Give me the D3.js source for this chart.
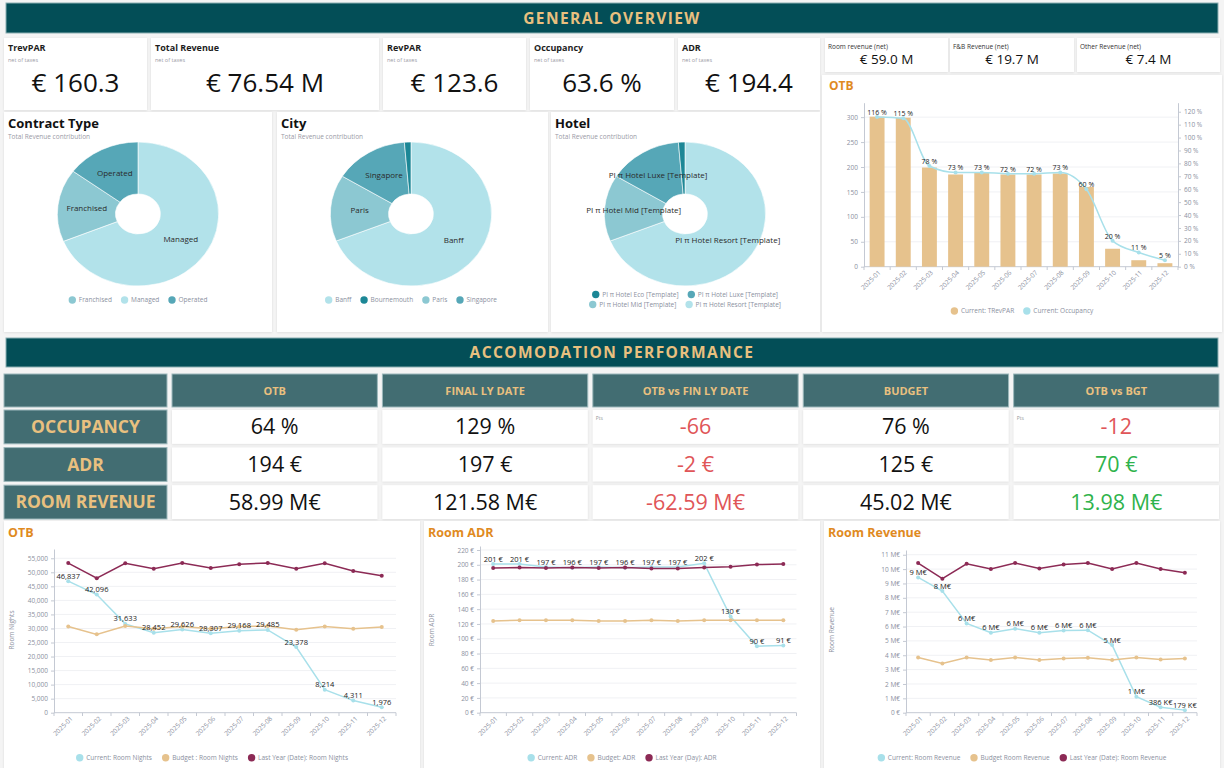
<!DOCTYPE html>
<html>
<head>
<meta charset="UTF-8">
<title>General Overview</title>
<script src="https://d3js.org/d3.v7.min.js"></script>
<style>
  * { margin: 0; padding: 0; box-sizing: border-box; }
  body { background: #f4f4f4; width: 1224px; height: 768px; overflow: hidden; }
  svg { display: block; }
  text { font-family: "Open Sans", sans-serif; }
  .axis path, .axis line { stroke: #c4c9d3; }
  .axis text { fill: #8b90a0; font-size: 6.5px; font-family: "Open Sans", sans-serif; }
</style>
</head>
<body>
<svg id="dash" width="1224" height="768"></svg>
<script>
// ---- data ----
const months = ["2025-01","2025-02","2025-03","2025-04","2025-05","2025-06",
                "2025-07","2025-08","2025-09","2025-10","2025-11","2025-12"];

const kpiNames = ["TrevPAR", "Total Revenue", "RevPAR", "Occupancy", "ADR"];
const kpiValues = ["€ 160.3", "€ 76.54 M", "€ 123.6", "63.6 %", "€ 194.4"];
const revNames = ["Room revenue (net)", "F&B Revenue (net)", "Other Revenue (net)"];
const revValues = ["€ 59.0 M", "€ 19.7 M", "€ 7.4 M"];

const otbTrevpar = [301, 299, 199, 185, 188, 185, 185, 187, 160, 36, 13, 7];
const otbOccupancy = [116, 115, 78, 73, 73, 72, 72, 73, 60, 20, 11, 5];

const contractNames = ["Managed", "Franchised", "Operated"];
const contractRevenue = [52.7, 12.5, 11.4];
const cityNames = ["Banff", "Paris", "Singapore", "Bournemouth"];
const cityRevenue = [52.7, 11.4, 11.4, 1.0];
const hotelNames = ["PI π Hotel Resort [Template]", "PI π Hotel Mid [Template]",
                    "PI π Hotel Luxe [Template]", "PI π Hotel Eco [Template]"];
const hotelRevenue = [52.7, 11.4, 11.4, 1.0];

const tableColumns = ["OTB", "FINAL LY DATE", "OTB vs FIN LY DATE", "BUDGET", "OTB vs BGT"];
const tableRows = ["OCCUPANCY", "ADR", "ROOM REVENUE"];
const occupancyRow = ["64 %", "129 %", "-66", "76 %", "-12"];
const adrRow = ["194 €", "197 €", "-2 €", "125 €", "70 €"];
const roomRevenueRow = ["58.99 M€", "121.58 M€", "-62.59 M€", "45.02 M€", "13.98 M€"];

const roomNightsCurrent = [46837, 42096, 31633, 28452, 29626, 28307, 29168, 29485, 23378, 8214, 4311, 1976];
const roomNightsBudget = [30700, 27900, 30900, 29900, 30700, 29900, 30700, 30900, 29500, 30700, 29900, 30500];
const roomNightsLastYear = [53300, 47900, 53200, 51300, 53300, 51500, 52900, 53300, 51300, 53200, 50500, 48800];

const adrCurrent = [201, 201, 197, 196, 197, 196, 197, 197, 202, 130, 90, 91];
const adrBudget = [124, 125, 125, 125, 124, 124, 125, 124, 125, 125, 125, 125];
const adrLastYear = [195.6, 196.4, 195.6, 196.4, 195.6, 196.4, 195, 195, 196.4, 197.3, 200.4, 200.9];

const revenueCurrent = [9.42, 8.47, 6.22, 5.57, 5.85, 5.57, 5.73, 5.75, 4.71, 1.11, 0.386, 0.179];
const revenueBudget = [3.85, 3.43, 3.85, 3.67, 3.85, 3.67, 3.78, 3.83, 3.67, 3.85, 3.71, 3.78];
const revenueLastYear = [10.42, 9.33, 10.37, 10.0, 10.42, 10.05, 10.32, 10.42, 10.0, 10.42, 10.0, 9.74];

// ---- styles ----
const DARK = "#034e57", GOLD = "#e9c07f", CELL = "#426d72", ORANGE = "#e08a1f";
const BLUE = "#a8e0ea", TAN = "#e6c28d", MAROON = "#8c2a55";
const RED = "#e05558", GREEN = "#2fb34c", GREY = "#8b90a0";
const PIE_COLORS = ["#b2e2ea", "#8cc8d2", "#56a7b7", "#1c8796"];

const svg = d3.select("#dash");
const defs = svg.append("defs");
defs.append("filter").attr("id", "shadow")
  .attr("x", "-5%").attr("y", "-5%").attr("width", "110%").attr("height", "115%")
  .append("feDropShadow").attr("dx", 0).attr("dy", 0.6).attr("stdDeviation", 0.8)
  .attr("flood-color", "#000").attr("flood-opacity", 0.1);

function card(x, y, w, h) {
  svg.append("rect").attr("x", x).attr("y", y).attr("width", w).attr("height", h)
    .attr("fill", "#fff").attr("filter", "url(#shadow)");
}

function sectionBand(y, h, label) {
  svg.append("rect").attr("x", 6).attr("y", y).attr("width", 1212).attr("height", h)
    .attr("fill", DARK).attr("stroke", "#8aaeb2").attr("stroke-width", 1);
  svg.append("text").attr("x", 612).attr("y", y + h / 2 + 5.5)
    .attr("text-anchor", "middle").attr("fill", GOLD)
    .attr("font-size", 15.5).attr("font-weight", 700).attr("letter-spacing", 1.4)
    .text(label);
}

function legend(cx, y, items, gap) {
  const g = svg.append("g");
  const nodes = items.map(it => {
    const ig = g.append("g");
    ig.append("circle").attr("r", 3.7).attr("fill", it.color);
    const t = ig.append("text").attr("x", 6.5).attr("y", 2.3)
      .attr("font-size", 6.5).attr("fill", GREY).text(it.label);
    return { ig, w: 6.5 + t.node().getComputedTextLength() };
  });
  const total = d3.sum(nodes, n => n.w + 3.7) + gap * (nodes.length - 1);
  let x = cx - total / 2 + 3.7;
  nodes.forEach(n => {
    n.ig.attr("transform", `translate(${x},${y})`);
    x += n.w + 3.7 + gap;
  });
}

function styleAxis(g) {
  g.attr("class", "axis");
}

// ---- GENERAL OVERVIEW ----
sectionBand(3, 30, "GENERAL OVERVIEW");

const kpiBoxes = [[4, 143], [151, 228], [383, 143], [530, 144], [678, 142]];
kpiNames.forEach((name, i) => {
  const [x, w] = kpiBoxes[i];
  card(x, 38, w, 72);
  svg.append("text").attr("x", x + 4).attr("y", 51).attr("font-size", 9)
    .attr("font-weight", 700).attr("fill", "#1d1d1d").text(name);
  svg.append("text").attr("x", x + 4).attr("y", 62).attr("font-size", 5.5)
    .attr("fill", "#9a9aa6").text("net of taxes");
  svg.append("text").attr("x", x + w / 2).attr("y", 92).attr("text-anchor", "middle")
    .attr("font-size", 26).attr("fill", "#111").text(kpiValues[i]);
});

const revBoxes = [[825, 123], [950, 124], [1077, 143]];
revNames.forEach((name, i) => {
  const [x, w] = revBoxes[i];
  card(x, 38, w, 34);
  svg.append("text").attr("x", x + 3).attr("y", 49).attr("font-size", 6.5)
    .attr("fill", "#333").text(name);
  svg.append("text").attr("x", x + w / 2).attr("y", 64).attr("text-anchor", "middle")
    .attr("font-size", 13.5).attr("fill", "#111").text(revValues[i]);
});

// ---- OTB bar + line (top right) ----
card(822, 75, 400, 257);
svg.append("text").attr("x", 829).attr("y", 90).attr("font-size", 12)
  .attr("font-weight", 700).attr("fill", ORANGE).text("OTB");
{
  const x = d3.scaleBand().domain(months).range([864, 1178]).paddingInner(0.43).paddingOuter(0.215);
  const yl = d3.scaleLinear().domain([0, 329]).range([266.7, 102.7]);
  const yr = d3.scaleLinear().domain([0, 127]).range([266.7, 102.7]);
  const g = svg.append("g");
  const leftTicks = d3.range(0, 301, 50);
  g.selectAll(".grid").data(leftTicks.slice(1)).join("line")
    .attr("x1", 864).attr("x2", 1178).attr("y1", d => yl(d)).attr("y2", d => yl(d))
    .attr("stroke", "#f0f1f4");
  g.append("g").attr("transform", "translate(864,0)")
    .call(d3.axisLeft(yl).tickValues(leftTicks).tickSize(3).tickSizeOuter(0).tickPadding(3))
    .call(styleAxis);
  g.append("g").attr("transform", "translate(1178,0)")
    .call(d3.axisRight(yr).tickValues(d3.range(0, 121, 10)).tickFormat(d => d + " %")
      .tickSize(3).tickSizeOuter(0).tickPadding(3))
    .call(styleAxis);
  // x axis
  const xa = g.append("g").attr("class", "axis");
  xa.append("line").attr("x1", 864).attr("x2", 1178).attr("y1", 266.7).attr("y2", 266.7);
  xa.selectAll(".tk").data(d3.range(months.length + 1)).join("line")
    .attr("x1", i => 864 + i * x.step()).attr("x2", i => 864 + i * x.step())
    .attr("y1", 266.7).attr("y2", 270);
  xa.selectAll(".xl").data(months).join("text")
    .attr("transform", d => `translate(${x(d) + x.bandwidth() / 2 + 4},${273}) rotate(-45)`)
    .attr("text-anchor", "end").text(d => d);

  g.selectAll(".bar").data(months).join("rect")
    .attr("x", d => x(d)).attr("width", x.bandwidth())
    .attr("y", (d, i) => yl(otbTrevpar[i])).attr("height", (d, i) => yl(0) - yl(otbTrevpar[i]))
    .attr("fill", TAN);

  const cx = d => x(d) + x.bandwidth() / 2;
  const line = d3.line().x((d, i) => cx(months[i])).y(d => yr(d)).curve(d3.curveMonotoneX);
  g.append("path").attr("d", line(otbOccupancy)).attr("fill", "none")
    .attr("stroke", BLUE).attr("stroke-width", 1.5);
  g.selectAll(".pt").data(otbOccupancy).join("circle")
    .attr("cx", (d, i) => cx(months[i])).attr("cy", d => yr(d)).attr("r", 2).attr("fill", BLUE);
  g.selectAll(".lb").data(otbOccupancy).join("text")
    .attr("x", (d, i) => cx(months[i])).attr("y", d => yr(d) - 2)
    .attr("text-anchor", "middle").attr("font-size", 7).attr("fill", "#222")
    .text(d => d + " %");

  legend(1022, 311, [{ label: "Current: TRevPAR", color: TAN },
                     { label: "Current: Occupancy", color: BLUE }], 9);
}

// ---- pies ----
function pieChart(x0, w, title, names, values, rows) {
  card(x0, 112, w, 220);
  svg.append("text").attr("x", x0 + 4).attr("y", 128).attr("font-size", 13)
    .attr("font-weight", 700).attr("fill", "#111").text(title);
  svg.append("text").attr("x", x0 + 4).attr("y", 139).attr("font-size", 6.5)
    .attr("fill", "#9a9aa6").text("Total Revenue contribution");
  const color = d3.scaleOrdinal(names, PIE_COLORS);
  const sx = 1.12, cx = x0 + 134, cy = 214;
  const arcs = d3.pie().sort(null)(values);
  const arc = d3.arc().innerRadius(20).outerRadius(72);
  const g = svg.append("g").attr("transform", `translate(${cx},${cy})`);
  g.append("g").attr("transform", `scale(${sx},1)`)
    .selectAll("path").data(arcs).join("path")
    .attr("d", arc).attr("fill", (d, i) => color(names[i]))
    .attr("stroke", "#fff").attr("stroke-width", 0.6).attr("vector-effect", "non-scaling-stroke");
  g.selectAll("text").data(arcs.filter(a => a.endAngle - a.startAngle > 0.3)).join("text")
    .attr("x", d => arc.centroid(d)[0] * sx).attr("y", d => arc.centroid(d)[1])
    .attr("dy", "0.35em").attr("text-anchor", "middle")
    .attr("font-size", 8).attr("fill", "#2a2a2a")
    .text(d => names[d.index]);
  const sorted = names.slice().sort((a, b) => a.localeCompare(b));
  const per = sorted.length / rows.length;
  rows.forEach((r, k) => {
    legend(cx, r, sorted.slice(k * per, (k + 1) * per)
      .map(n => ({ label: n, color: color(n) })), 9);
  });
}
pieChart(4, 268, "Contract Type", contractNames, contractRevenue, [300]);
pieChart(277, 271, "City", cityNames, cityRevenue, [300]);
pieChart(551, 269, "Hotel", hotelNames, hotelRevenue, [294.5, 304.5]);

// ---- ACCOMODATION PERFORMANCE ----
sectionBand(338, 29, "ACCOMODATION PERFORMANCE");
{
  const cx = d3.scaleBand().domain(tableColumns).range([172, 1219]).paddingInner(0.024);
  const ry = d3.scaleBand().domain(tableRows).range([410, 519]).paddingInner(0.1);
  const g = svg.append("g");
  g.append("rect").attr("x", 4).attr("y", 374).attr("width", 163).attr("height", 33)
    .attr("fill", CELL).attr("stroke", "#9cb8bb");
  tableColumns.forEach(c => {
    g.append("rect").attr("x", cx(c)).attr("y", 374).attr("width", cx.bandwidth()).attr("height", 33)
      .attr("fill", CELL).attr("stroke", "#9cb8bb");
    g.append("text").attr("x", cx(c) + cx.bandwidth() / 2).attr("y", 394.5)
      .attr("text-anchor", "middle").attr("font-size", 11).attr("font-weight", 700)
      .attr("fill", GOLD).text(c);
  });
  const rowValues = [occupancyRow, adrRow, roomRevenueRow];
  const valueColor = (v, j) => (j === 2 || j === 4) ? (v.startsWith("-") ? RED : GREEN) : "#111";
  tableRows.forEach((r, i) => {
    const y = ry(r), h = ry.bandwidth();
    g.append("rect").attr("x", 4).attr("y", y).attr("width", 163).attr("height", h)
      .attr("fill", CELL).attr("stroke", "#9cb8bb");
    g.append("text").attr("x", 85.5).attr("y", y + h / 2 + 6.2)
      .attr("text-anchor", "middle").attr("font-size", 17.5).attr("font-weight", 700)
      .attr("fill", GOLD).text(r);
    tableColumns.forEach((c, j) => {
      g.append("rect").attr("x", cx(c)).attr("y", y).attr("width", cx.bandwidth()).attr("height", h)
        .attr("fill", "#fff").attr("filter", "url(#shadow)");
      if (i === 0 && (j === 2 || j === 4)) {
        g.append("text").attr("x", cx(c) + 3).attr("y", y + 10).attr("font-size", 5)
          .attr("fill", "#999").text("Pts");
      }
      g.append("text").attr("x", cx(c) + cx.bandwidth() / 2).attr("y", y + h / 2 + 7.5)
        .attr("text-anchor", "middle").attr("font-size", 21.5)
        .attr("fill", valueColor(rowValues[i][j], j)).text(rowValues[i][j]);
    });
  });
}

// ---- line charts ----
function lineChart(o) {
  card(o.cardX, 521, o.cardW, 250);
  svg.append("text").attr("x", o.cardX + 4).attr("y", 537).attr("font-size", 12.5)
    .attr("font-weight", 700).attr("fill", ORANGE).text(o.title);
  const x = d3.scalePoint().domain(months).range([o.left, o.right]).padding(0.5);
  const y = d3.scaleLinear().domain([0, o.max]).range([712.7, o.top]);
  const g = svg.append("g");
  g.selectAll(".grid").data(o.ticks.slice(1)).join("line")
    .attr("x1", o.left).attr("x2", o.right).attr("y1", d => y(d)).attr("y2", d => y(d))
    .attr("stroke", "#f0f1f4");
  g.append("g").attr("transform", `translate(${o.left},0)`)
    .call(d3.axisLeft(y).tickValues(o.ticks).tickFormat(o.tickFormat)
      .tickSize(3).tickSizeOuter(0).tickPadding(3))
    .call(styleAxis);
  const xa = g.append("g").attr("class", "axis");
  xa.append("line").attr("x1", o.left).attr("x2", o.right).attr("y1", 712.7).attr("y2", 712.7);
  xa.selectAll(".tk").data(d3.range(months.length + 1)).join("line")
    .attr("x1", i => o.left + i * x.step()).attr("x2", i => o.left + i * x.step())
    .attr("y1", 712.7).attr("y2", 716);
  xa.selectAll(".xl").data(months).join("text")
    .attr("transform", d => `translate(${x(d) + 5},${719}) rotate(-45)`)
    .attr("text-anchor", "end").text(d => d);
  svg.append("text").attr("transform", `translate(${o.cardX + 10},630) rotate(-90)`)
    .attr("text-anchor", "middle").attr("font-size", 6.5).attr("fill", GREY).text(o.yTitle);

  const line = d3.line().x((d, i) => x(months[i])).y(d => y(d));
  o.series.forEach(s => {
    g.append("path").attr("d", line(s.values)).attr("fill", "none")
      .attr("stroke", s.color).attr("stroke-width", 1.5);
    g.selectAll(null).data(s.values).join("circle")
      .attr("cx", (d, i) => x(months[i])).attr("cy", d => y(d)).attr("r", 2).attr("fill", s.color);
  });
  g.selectAll(null).data(o.series[0].values).join("text")
    .attr("x", (d, i) => x(months[i])).attr("y", d => y(d) - 2.5)
    .attr("text-anchor", "middle").attr("font-size", 7.5).attr("fill", "#222")
    .text(o.labelFormat);
  legend(o.cardX + o.cardW / 2, 757.7, o.series.map(s => ({ label: s.name, color: s.color })), 10);
}

lineChart({
  cardX: 4, cardW: 416, title: "OTB", yTitle: "Room Nights",
  left: 54, right: 396, top: 549, max: 58300,
  ticks: d3.range(0, 55001, 5000), tickFormat: d3.format(","), labelFormat: d3.format(","),
  series: [
    { name: "Current: Room Nights", color: BLUE, values: roomNightsCurrent },
    { name: "Budget : Room Nights", color: TAN, values: roomNightsBudget },
    { name: "Last Year (Date): Room Nights", color: MAROON, values: roomNightsLastYear }
  ]
});
lineChart({
  cardX: 424, cardW: 396, title: "Room ADR", yTitle: "Room ADR",
  left: 480, right: 796.5, top: 546, max: 225.4,
  ticks: d3.range(0, 221, 20), tickFormat: d => d + " €", labelFormat: d => Math.round(d) + " €",
  series: [
    { name: "Current: ADR", color: BLUE, values: adrCurrent },
    { name: "Budget: ADR", color: TAN, values: adrBudget },
    { name: "Last Year (Day): ADR", color: MAROON, values: adrLastYear }
  ]
});
lineChart({
  cardX: 824, cardW: 396, title: "Room Revenue", yTitle: "Room Revenue",
  left: 906, right: 1197, top: 550, max: 11.33,
  ticks: d3.range(0, 12, 1), tickFormat: d => d === 0 ? "0 €" : d + " M€",
  labelFormat: d => d >= 1 ? Math.round(d) + " M€" : Math.round(d * 1000) + " K€",
  series: [
    { name: "Current: Room Revenue", color: BLUE, values: revenueCurrent },
    { name: "Budget Room Revenue", color: TAN, values: revenueBudget },
    { name: "Last Year (Date): Room Revenue", color: MAROON, values: revenueLastYear }
  ]
});
</script>
</body>
</html>
